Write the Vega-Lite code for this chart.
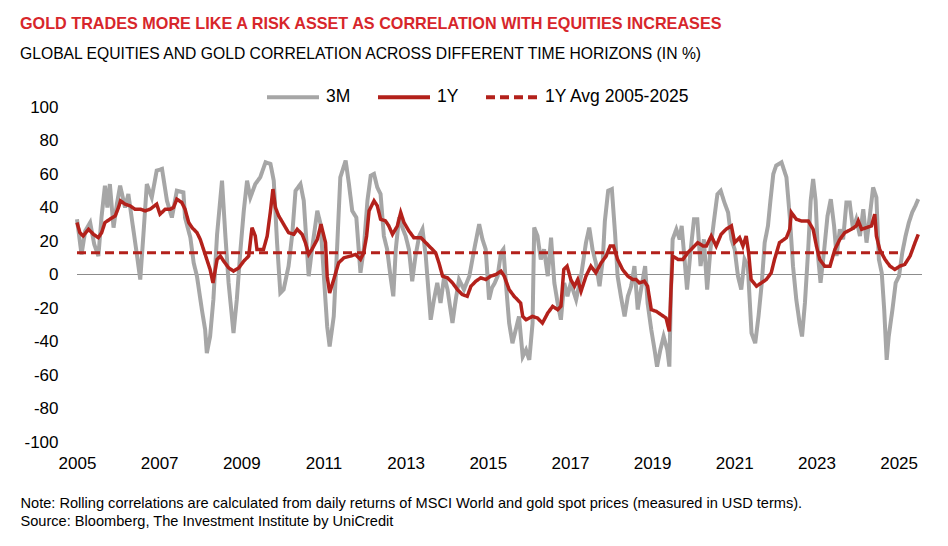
{
  "$schema": "https://vega.github.io/schema/vega-lite/v6.json",
  "width": 845,
  "height": 335,
  "autosize": {"type": "none"},
  "padding": {"left": 77, "top": 107, "right": 26, "bottom": 104},
  "background": "white",
  "title": {
    "text": "GOLD TRADES MORE LIKE A RISK ASSET AS CORRELATION WITH EQUITIES INCREASES",
    "subtitle": "GLOBAL EQUITIES AND GOLD CORRELATION ACROSS DIFFERENT TIME HORIZONS (IN %)",
    "anchor": "start",
    "frame": "group",
    "dx": -57,
    "offset": 7,
    "font": "Liberation Sans",
    "fontSize": 16.2,
    "fontWeight": "bold",
    "color": "#D7262B",
    "subtitleFont": "Liberation Sans",
    "subtitleFontSize": 15.7,
    "subtitleColor": "#000000",
    "subtitlePadding": 15
  },
  "data": {
    "values": [
      {"s":"3M","t":2005.0,"v":33},{"s":"3M","t":2005.11,"v":12},{"s":"3M","t":2005.2,"v":26},{"s":"3M","t":2005.32,"v":31},{"s":"3M","t":2005.42,"v":18},{"s":"3M","t":2005.52,"v":11},{"s":"3M","t":2005.6,"v":35},{"s":"3M","t":2005.68,"v":53},{"s":"3M","t":2005.74,"v":40},{"s":"3M","t":2005.8,"v":54},{"s":"3M","t":2005.89,"v":28},{"s":"3M","t":2005.97,"v":42},{"s":"3M","t":2006.05,"v":53},{"s":"3M","t":2006.17,"v":40},{"s":"3M","t":2006.25,"v":48},{"s":"3M","t":2006.33,"v":34},{"s":"3M","t":2006.44,"v":15},{"s":"3M","t":2006.54,"v":-3},{"s":"3M","t":2006.62,"v":25},{"s":"3M","t":2006.7,"v":54},{"s":"3M","t":2006.82,"v":46},{"s":"3M","t":2006.94,"v":62},{"s":"3M","t":2007.07,"v":63},{"s":"3M","t":2007.19,"v":44},{"s":"3M","t":2007.31,"v":34},{"s":"3M","t":2007.43,"v":50},{"s":"3M","t":2007.59,"v":49},{"s":"3M","t":2007.63,"v":34},{"s":"3M","t":2007.76,"v":22},{"s":"3M","t":2007.84,"v":7},{"s":"3M","t":2007.92,"v":-1},{"s":"3M","t":2008.04,"v":-21},{"s":"3M","t":2008.12,"v":-33},{"s":"3M","t":2008.16,"v":-47},{"s":"3M","t":2008.24,"v":-37},{"s":"3M","t":2008.32,"v":-15},{"s":"3M","t":2008.41,"v":24},{"s":"3M","t":2008.53,"v":56},{"s":"3M","t":2008.61,"v":24},{"s":"3M","t":2008.69,"v":-5},{"s":"3M","t":2008.77,"v":-25},{"s":"3M","t":2008.81,"v":-35},{"s":"3M","t":2008.89,"v":-15},{"s":"3M","t":2008.98,"v":15},{"s":"3M","t":2009.06,"v":38},{"s":"3M","t":2009.14,"v":56},{"s":"3M","t":2009.22,"v":46},{"s":"3M","t":2009.34,"v":54},{"s":"3M","t":2009.46,"v":58},{"s":"3M","t":2009.59,"v":67},{"s":"3M","t":2009.71,"v":66},{"s":"3M","t":2009.79,"v":56},{"s":"3M","t":2009.87,"v":19},{"s":"3M","t":2009.95,"v":-11},{"s":"3M","t":2010.03,"v":-9},{"s":"3M","t":2010.15,"v":5},{"s":"3M","t":2010.24,"v":24},{"s":"3M","t":2010.32,"v":50},{"s":"3M","t":2010.44,"v":54},{"s":"3M","t":2010.52,"v":44},{"s":"3M","t":2010.64,"v":-1},{"s":"3M","t":2010.72,"v":15},{"s":"3M","t":2010.85,"v":38},{"s":"3M","t":2010.93,"v":30},{"s":"3M","t":2011.01,"v":-1},{"s":"3M","t":2011.09,"v":-31},{"s":"3M","t":2011.15,"v":-43},{"s":"3M","t":2011.25,"v":-25},{"s":"3M","t":2011.33,"v":15},{"s":"3M","t":2011.41,"v":58},{"s":"3M","t":2011.54,"v":68},{"s":"3M","t":2011.62,"v":54},{"s":"3M","t":2011.7,"v":38},{"s":"3M","t":2011.8,"v":34},{"s":"3M","t":2011.9,"v":1},{"s":"3M","t":2011.98,"v":15},{"s":"3M","t":2012.07,"v":44},{"s":"3M","t":2012.15,"v":59},{"s":"3M","t":2012.23,"v":60},{"s":"3M","t":2012.31,"v":52},{"s":"3M","t":2012.39,"v":48},{"s":"3M","t":2012.47,"v":23},{"s":"3M","t":2012.55,"v":15},{"s":"3M","t":2012.63,"v":-1},{"s":"3M","t":2012.7,"v":-13},{"s":"3M","t":2012.76,"v":15},{"s":"3M","t":2012.84,"v":34},{"s":"3M","t":2012.92,"v":28},{"s":"3M","t":2013.0,"v":23},{"s":"3M","t":2013.08,"v":15},{"s":"3M","t":2013.16,"v":-4},{"s":"3M","t":2013.24,"v":11},{"s":"3M","t":2013.33,"v":23},{"s":"3M","t":2013.41,"v":27},{"s":"3M","t":2013.49,"v":11},{"s":"3M","t":2013.61,"v":-27},{"s":"3M","t":2013.69,"v":-15},{"s":"3M","t":2013.77,"v":-5},{"s":"3M","t":2013.85,"v":-17},{"s":"3M","t":2013.94,"v":-1},{"s":"3M","t":2014.02,"v":-9},{"s":"3M","t":2014.14,"v":-29},{"s":"3M","t":2014.22,"v":-15},{"s":"3M","t":2014.3,"v":-3},{"s":"3M","t":2014.42,"v":-9},{"s":"3M","t":2014.55,"v":-1},{"s":"3M","t":2014.67,"v":15},{"s":"3M","t":2014.79,"v":30},{"s":"3M","t":2014.87,"v":21},{"s":"3M","t":2014.95,"v":15},{"s":"3M","t":2015.03,"v":-15},{"s":"3M","t":2015.1,"v":-8},{"s":"3M","t":2015.17,"v":-5},{"s":"3M","t":2015.24,"v":-1},{"s":"3M","t":2015.32,"v":13},{"s":"3M","t":2015.38,"v":15},{"s":"3M","t":2015.44,"v":-5},{"s":"3M","t":2015.52,"v":-29},{"s":"3M","t":2015.6,"v":-41},{"s":"3M","t":2015.68,"v":-33},{"s":"3M","t":2015.76,"v":-25},{"s":"3M","t":2015.85,"v":-49},{"s":"3M","t":2015.93,"v":-45},{"s":"3M","t":2016.01,"v":-51},{"s":"3M","t":2016.09,"v":-29},{"s":"3M","t":2016.13,"v":28},{"s":"3M","t":2016.21,"v":23},{"s":"3M","t":2016.29,"v":9},{"s":"3M","t":2016.37,"v":15},{"s":"3M","t":2016.46,"v":-1},{"s":"3M","t":2016.54,"v":22},{"s":"3M","t":2016.62,"v":-5},{"s":"3M","t":2016.7,"v":-17},{"s":"3M","t":2016.78,"v":-27},{"s":"3M","t":2016.86,"v":-5},{"s":"3M","t":2016.94,"v":-13},{"s":"3M","t":2017.02,"v":-5},{"s":"3M","t":2017.15,"v":-15},{"s":"3M","t":2017.27,"v":-1},{"s":"3M","t":2017.39,"v":19},{"s":"3M","t":2017.47,"v":28},{"s":"3M","t":2017.55,"v":15},{"s":"3M","t":2017.63,"v":7},{"s":"3M","t":2017.72,"v":-7},{"s":"3M","t":2017.8,"v":9},{"s":"3M","t":2017.85,"v":32},{"s":"3M","t":2017.93,"v":50},{"s":"3M","t":2018.02,"v":51},{"s":"3M","t":2018.1,"v":24},{"s":"3M","t":2018.16,"v":-1},{"s":"3M","t":2018.24,"v":-13},{"s":"3M","t":2018.33,"v":-25},{"s":"3M","t":2018.41,"v":-13},{"s":"3M","t":2018.49,"v":-7},{"s":"3M","t":2018.57,"v":5},{"s":"3M","t":2018.65,"v":-21},{"s":"3M","t":2018.73,"v":-9},{"s":"3M","t":2018.83,"v":5},{"s":"3M","t":2018.89,"v":-17},{"s":"3M","t":2018.98,"v":-33},{"s":"3M","t":2019.06,"v":-45},{"s":"3M","t":2019.12,"v":-55},{"s":"3M","t":2019.2,"v":-45},{"s":"3M","t":2019.28,"v":-37},{"s":"3M","t":2019.37,"v":-45},{"s":"3M","t":2019.42,"v":-55},{"s":"3M","t":2019.46,"v":-9},{"s":"3M","t":2019.5,"v":21},{"s":"3M","t":2019.59,"v":27},{"s":"3M","t":2019.67,"v":21},{"s":"3M","t":2019.72,"v":29},{"s":"3M","t":2019.79,"v":9},{"s":"3M","t":2019.85,"v":-9},{"s":"3M","t":2019.94,"v":15},{"s":"3M","t":2020.02,"v":33},{"s":"3M","t":2020.1,"v":33},{"s":"3M","t":2020.18,"v":5},{"s":"3M","t":2020.26,"v":21},{"s":"3M","t":2020.34,"v":-9},{"s":"3M","t":2020.42,"v":15},{"s":"3M","t":2020.5,"v":31},{"s":"3M","t":2020.59,"v":48},{"s":"3M","t":2020.67,"v":50},{"s":"3M","t":2020.76,"v":43},{"s":"3M","t":2020.85,"v":37},{"s":"3M","t":2020.93,"v":21},{"s":"3M","t":2021.01,"v":15},{"s":"3M","t":2021.09,"v":-1},{"s":"3M","t":2021.17,"v":-9},{"s":"3M","t":2021.25,"v":9},{"s":"3M","t":2021.33,"v":5},{"s":"3M","t":2021.42,"v":-35},{"s":"3M","t":2021.51,"v":-41},{"s":"3M","t":2021.59,"v":-25},{"s":"3M","t":2021.67,"v":-5},{"s":"3M","t":2021.74,"v":19},{"s":"3M","t":2021.82,"v":29},{"s":"3M","t":2021.88,"v":44},{"s":"3M","t":2021.95,"v":60},{"s":"3M","t":2022.02,"v":65},{"s":"3M","t":2022.15,"v":67},{"s":"3M","t":2022.27,"v":58},{"s":"3M","t":2022.35,"v":35},{"s":"3M","t":2022.43,"v":5},{"s":"3M","t":2022.51,"v":-15},{"s":"3M","t":2022.59,"v":-29},{"s":"3M","t":2022.65,"v":-37},{"s":"3M","t":2022.72,"v":-17},{"s":"3M","t":2022.8,"v":15},{"s":"3M","t":2022.86,"v":44},{"s":"3M","t":2022.92,"v":57},{"s":"3M","t":2022.98,"v":44},{"s":"3M","t":2023.04,"v":11},{"s":"3M","t":2023.1,"v":-5},{"s":"3M","t":2023.19,"v":15},{"s":"3M","t":2023.27,"v":35},{"s":"3M","t":2023.35,"v":45},{"s":"3M","t":2023.43,"v":29},{"s":"3M","t":2023.49,"v":11},{"s":"3M","t":2023.57,"v":27},{"s":"3M","t":2023.65,"v":21},{"s":"3M","t":2023.73,"v":43},{"s":"3M","t":2023.81,"v":43},{"s":"3M","t":2023.89,"v":27},{"s":"3M","t":2023.97,"v":33},{"s":"3M","t":2024.06,"v":23},{"s":"3M","t":2024.14,"v":39},{"s":"3M","t":2024.22,"v":19},{"s":"3M","t":2024.3,"v":35},{"s":"3M","t":2024.38,"v":52},{"s":"3M","t":2024.46,"v":46},{"s":"3M","t":2024.52,"v":9},{"s":"3M","t":2024.59,"v":1},{"s":"3M","t":2024.65,"v":-21},{"s":"3M","t":2024.71,"v":-51},{"s":"3M","t":2024.76,"v":-37},{"s":"3M","t":2024.85,"v":-21},{"s":"3M","t":2024.93,"v":-5},{"s":"3M","t":2025.01,"v":-1},{"s":"3M","t":2025.09,"v":13},{"s":"3M","t":2025.17,"v":23},{"s":"3M","t":2025.25,"v":31},{"s":"3M","t":2025.33,"v":37},{"s":"3M","t":2025.41,"v":41},{"s":"3M","t":2025.48,"v":45},
      {"s":"1Y","t":2005.0,"v":31},{"s":"1Y","t":2005.07,"v":25},{"s":"1Y","t":2005.15,"v":23},{"s":"1Y","t":2005.28,"v":27},{"s":"1Y","t":2005.4,"v":24},{"s":"1Y","t":2005.52,"v":22},{"s":"1Y","t":2005.6,"v":25},{"s":"1Y","t":2005.68,"v":31},{"s":"1Y","t":2005.8,"v":33},{"s":"1Y","t":2005.93,"v":35},{"s":"1Y","t":2006.01,"v":40},{"s":"1Y","t":2006.06,"v":44},{"s":"1Y","t":2006.17,"v":42},{"s":"1Y","t":2006.29,"v":41},{"s":"1Y","t":2006.41,"v":39},{"s":"1Y","t":2006.54,"v":39},{"s":"1Y","t":2006.66,"v":38},{"s":"1Y","t":2006.78,"v":39},{"s":"1Y","t":2006.94,"v":42},{"s":"1Y","t":2007.02,"v":36},{"s":"1Y","t":2007.15,"v":39},{"s":"1Y","t":2007.27,"v":39},{"s":"1Y","t":2007.35,"v":40},{"s":"1Y","t":2007.43,"v":45},{"s":"1Y","t":2007.55,"v":43},{"s":"1Y","t":2007.63,"v":39},{"s":"1Y","t":2007.72,"v":31},{"s":"1Y","t":2007.8,"v":28},{"s":"1Y","t":2007.92,"v":25},{"s":"1Y","t":2008.0,"v":21},{"s":"1Y","t":2008.08,"v":15},{"s":"1Y","t":2008.16,"v":9},{"s":"1Y","t":2008.24,"v":3},{"s":"1Y","t":2008.31,"v":-5},{"s":"1Y","t":2008.41,"v":9},{"s":"1Y","t":2008.49,"v":11},{"s":"1Y","t":2008.57,"v":8},{"s":"1Y","t":2008.69,"v":4},{"s":"1Y","t":2008.81,"v":2},{"s":"1Y","t":2008.94,"v":4},{"s":"1Y","t":2009.06,"v":8},{"s":"1Y","t":2009.18,"v":11},{"s":"1Y","t":2009.26,"v":28},{"s":"1Y","t":2009.34,"v":23},{"s":"1Y","t":2009.38,"v":15},{"s":"1Y","t":2009.46,"v":15},{"s":"1Y","t":2009.54,"v":15},{"s":"1Y","t":2009.63,"v":23},{"s":"1Y","t":2009.71,"v":38},{"s":"1Y","t":2009.77,"v":51},{"s":"1Y","t":2009.83,"v":40},{"s":"1Y","t":2009.91,"v":35},{"s":"1Y","t":2010.03,"v":30},{"s":"1Y","t":2010.15,"v":25},{"s":"1Y","t":2010.28,"v":24},{"s":"1Y","t":2010.36,"v":27},{"s":"1Y","t":2010.48,"v":24},{"s":"1Y","t":2010.56,"v":19},{"s":"1Y","t":2010.64,"v":12},{"s":"1Y","t":2010.72,"v":15},{"s":"1Y","t":2010.85,"v":21},{"s":"1Y","t":2010.94,"v":30},{"s":"1Y","t":2011.05,"v":19},{"s":"1Y","t":2011.09,"v":-1},{"s":"1Y","t":2011.15,"v":-11},{"s":"1Y","t":2011.25,"v":-3},{"s":"1Y","t":2011.37,"v":7},{"s":"1Y","t":2011.5,"v":10},{"s":"1Y","t":2011.66,"v":11},{"s":"1Y","t":2011.78,"v":12},{"s":"1Y","t":2011.9,"v":9},{"s":"1Y","t":2011.98,"v":13},{"s":"1Y","t":2012.05,"v":23},{"s":"1Y","t":2012.11,"v":38},{"s":"1Y","t":2012.23,"v":44},{"s":"1Y","t":2012.31,"v":41},{"s":"1Y","t":2012.39,"v":33},{"s":"1Y","t":2012.51,"v":32},{"s":"1Y","t":2012.59,"v":29},{"s":"1Y","t":2012.68,"v":24},{"s":"1Y","t":2012.8,"v":29},{"s":"1Y","t":2012.88,"v":37},{"s":"1Y","t":2012.96,"v":31},{"s":"1Y","t":2013.08,"v":26},{"s":"1Y","t":2013.2,"v":22},{"s":"1Y","t":2013.37,"v":22},{"s":"1Y","t":2013.49,"v":19},{"s":"1Y","t":2013.61,"v":16},{"s":"1Y","t":2013.73,"v":13},{"s":"1Y","t":2013.81,"v":7},{"s":"1Y","t":2013.9,"v":-1},{"s":"1Y","t":2014.02,"v":-2},{"s":"1Y","t":2014.14,"v":-5},{"s":"1Y","t":2014.26,"v":-9},{"s":"1Y","t":2014.38,"v":-12},{"s":"1Y","t":2014.5,"v":-13},{"s":"1Y","t":2014.59,"v":-7},{"s":"1Y","t":2014.71,"v":-4},{"s":"1Y","t":2014.83,"v":-2},{"s":"1Y","t":2014.95,"v":-3},{"s":"1Y","t":2015.07,"v":-1},{"s":"1Y","t":2015.2,"v":0},{"s":"1Y","t":2015.32,"v":2},{"s":"1Y","t":2015.4,"v":-1},{"s":"1Y","t":2015.52,"v":-9},{"s":"1Y","t":2015.64,"v":-13},{"s":"1Y","t":2015.8,"v":-17},{"s":"1Y","t":2015.85,"v":-25},{"s":"1Y","t":2015.93,"v":-27},{"s":"1Y","t":2016.09,"v":-25},{"s":"1Y","t":2016.21,"v":-26},{"s":"1Y","t":2016.33,"v":-29},{"s":"1Y","t":2016.46,"v":-23},{"s":"1Y","t":2016.58,"v":-19},{"s":"1Y","t":2016.7,"v":-21},{"s":"1Y","t":2016.78,"v":-19},{"s":"1Y","t":2016.85,"v":3},{"s":"1Y","t":2016.93,"v":5},{"s":"1Y","t":2017.02,"v":-3},{"s":"1Y","t":2017.11,"v":-7},{"s":"1Y","t":2017.19,"v":-3},{"s":"1Y","t":2017.27,"v":-10},{"s":"1Y","t":2017.39,"v":-1},{"s":"1Y","t":2017.51,"v":5},{"s":"1Y","t":2017.63,"v":1},{"s":"1Y","t":2017.76,"v":7},{"s":"1Y","t":2017.88,"v":11},{"s":"1Y","t":2017.98,"v":17},{"s":"1Y","t":2018.06,"v":17},{"s":"1Y","t":2018.16,"v":9},{"s":"1Y","t":2018.28,"v":3},{"s":"1Y","t":2018.41,"v":-1},{"s":"1Y","t":2018.53,"v":-3},{"s":"1Y","t":2018.61,"v":-3},{"s":"1Y","t":2018.69,"v":-5},{"s":"1Y","t":2018.81,"v":-4},{"s":"1Y","t":2018.89,"v":-7},{"s":"1Y","t":2018.98,"v":-21},{"s":"1Y","t":2019.1,"v":-22},{"s":"1Y","t":2019.22,"v":-24},{"s":"1Y","t":2019.34,"v":-26},{"s":"1Y","t":2019.42,"v":-34},{"s":"1Y","t":2019.46,"v":-9},{"s":"1Y","t":2019.5,"v":11},{"s":"1Y","t":2019.63,"v":9},{"s":"1Y","t":2019.75,"v":9},{"s":"1Y","t":2019.87,"v":13},{"s":"1Y","t":2019.99,"v":16},{"s":"1Y","t":2020.11,"v":19},{"s":"1Y","t":2020.24,"v":17},{"s":"1Y","t":2020.32,"v":17},{"s":"1Y","t":2020.44,"v":23},{"s":"1Y","t":2020.56,"v":17},{"s":"1Y","t":2020.68,"v":24},{"s":"1Y","t":2020.8,"v":27},{"s":"1Y","t":2020.93,"v":29},{"s":"1Y","t":2021.01,"v":19},{"s":"1Y","t":2021.13,"v":22},{"s":"1Y","t":2021.21,"v":17},{"s":"1Y","t":2021.29,"v":23},{"s":"1Y","t":2021.35,"v":13},{"s":"1Y","t":2021.41,"v":-3},{"s":"1Y","t":2021.54,"v":-7},{"s":"1Y","t":2021.66,"v":-5},{"s":"1Y","t":2021.78,"v":-3},{"s":"1Y","t":2021.9,"v":1},{"s":"1Y","t":2021.98,"v":9},{"s":"1Y","t":2022.1,"v":19},{"s":"1Y","t":2022.27,"v":22},{"s":"1Y","t":2022.35,"v":27},{"s":"1Y","t":2022.39,"v":37},{"s":"1Y","t":2022.51,"v":33},{"s":"1Y","t":2022.63,"v":32},{"s":"1Y","t":2022.8,"v":32},{"s":"1Y","t":2022.92,"v":27},{"s":"1Y","t":2023.0,"v":17},{"s":"1Y","t":2023.08,"v":9},{"s":"1Y","t":2023.2,"v":5},{"s":"1Y","t":2023.33,"v":5},{"s":"1Y","t":2023.45,"v":15},{"s":"1Y","t":2023.57,"v":21},{"s":"1Y","t":2023.69,"v":25},{"s":"1Y","t":2023.85,"v":27},{"s":"1Y","t":2023.97,"v":29},{"s":"1Y","t":2024.02,"v":32},{"s":"1Y","t":2024.1,"v":27},{"s":"1Y","t":2024.22,"v":28},{"s":"1Y","t":2024.34,"v":29},{"s":"1Y","t":2024.42,"v":36},{"s":"1Y","t":2024.46,"v":23},{"s":"1Y","t":2024.54,"v":15},{"s":"1Y","t":2024.67,"v":9},{"s":"1Y","t":2024.79,"v":5},{"s":"1Y","t":2024.91,"v":3},{"s":"1Y","t":2025.03,"v":5},{"s":"1Y","t":2025.15,"v":6},{"s":"1Y","t":2025.28,"v":11},{"s":"1Y","t":2025.4,"v":19},{"s":"1Y","t":2025.48,"v":24},
      {"s":"1Y Avg 2005-2025","t":2005.0,"v":13},{"s":"1Y Avg 2005-2025","t":2025.05,"v":13}
    ]
  },
  "encoding": {
    "x": {
      "field": "t",
      "type": "quantitative",
      "scale": {"domain": [2005, 2025.57], "nice": false, "zero": false},
      "axis": {
        "values": [2005, 2007, 2009, 2011, 2013, 2015, 2017, 2019, 2021, 2023, 2025],
        "format": "d",
        "grid": false,
        "ticks": false,
        "domain": false,
        "labelFlush": false,
        "labelOverlap": false,
        "labelFont": "Liberation Sans",
        "labelFontSize": 17,
        "labelColor": "#000000",
        "labelPadding": 13,
        "title": [
          "Note: Rolling correlations are calculated from daily returns of MSCI World and gold spot prices (measured in USD terms).",
          "Source: Bloomberg, The Investment Institute by UniCredit"
        ],
        "titleFont": "Liberation Sans",
        "titleFontSize": 14.6,
        "titleFontWeight": "normal",
        "titleColor": "#000000",
        "titleAlign": "left",
        "titleAnchor": "start",
        "titleBaseline": "alphabetic",
        "titleX": -57,
        "titleY": 65,
        "titleLineHeight": 18
      }
    },
    "y": {
      "field": "v",
      "type": "quantitative",
      "scale": {"domain": [-100, 100], "nice": false},
      "axis": {
        "values": [-100, -80, -60, -40, -20, 0, 20, 40, 60, 80, 100],
        "labelExpr": "'' + datum.value",
        "grid": false,
        "ticks": false,
        "domain": false,
        "labelFlush": false,
        "labelOverlap": false,
        "labelFont": "Liberation Sans",
        "labelFontSize": 17,
        "labelColor": "#000000",
        "labelPadding": 19,
        "title": null
      }
    },
    "color": {
      "field": "s",
      "type": "nominal",
      "scale": {
        "domain": ["3M", "1Y", "1Y Avg 2005-2025"],
        "range": ["#A6A6A6", "#B3211B", "#B3211B"]
      },
      "legend": {
        "orient": "none",
        "legendX": 188,
        "legendY": -38,
        "direction": "horizontal",
        "title": null,
        "symbolType": "stroke",
        "symbolSize": 2704,
        "symbolStrokeWidth": 4,
        "labelFont": "Liberation Sans",
        "labelFontSize": 17.5,
        "labelColor": "#000000",
        "labelOffset": 5,
        "columnPadding": 19
      }
    },
    "strokeDash": {
      "field": "s",
      "type": "nominal",
      "scale": {
        "domain": ["3M", "1Y", "1Y Avg 2005-2025"],
        "range": [[1, 0], [1, 0], [9, 5]]
      },
      "legend": {
        "orient": "none",
        "legendX": 188,
        "legendY": -38,
        "direction": "horizontal",
        "title": null,
        "symbolType": "stroke",
        "symbolSize": 2704,
        "symbolStrokeWidth": 4,
        "labelFont": "Liberation Sans",
        "labelFontSize": 17.5,
        "labelColor": "#000000",
        "labelOffset": 5,
        "columnPadding": 19
      }
    }
  },
  "layer": [
    {
      "mark": {"type": "rule", "color": "#8C8C8C", "strokeWidth": 1},
      "encoding": {"y": {"datum": 0}, "x": null, "color": null, "strokeDash": null}
    },
    {
      "transform": [{"filter": "datum.s == '3M'"}],
      "mark": {"type": "line", "strokeWidth": 4}
    },
    {
      "transform": [{"filter": "datum.s == '1Y Avg 2005-2025'"}],
      "mark": {"type": "line", "strokeWidth": 3}
    },
    {
      "transform": [{"filter": "datum.s == '1Y'"}],
      "mark": {"type": "line", "strokeWidth": 3.5}
    }
  ],
  "config": {
    "view": {"stroke": null},
    "font": "Liberation Sans"
  }
}
